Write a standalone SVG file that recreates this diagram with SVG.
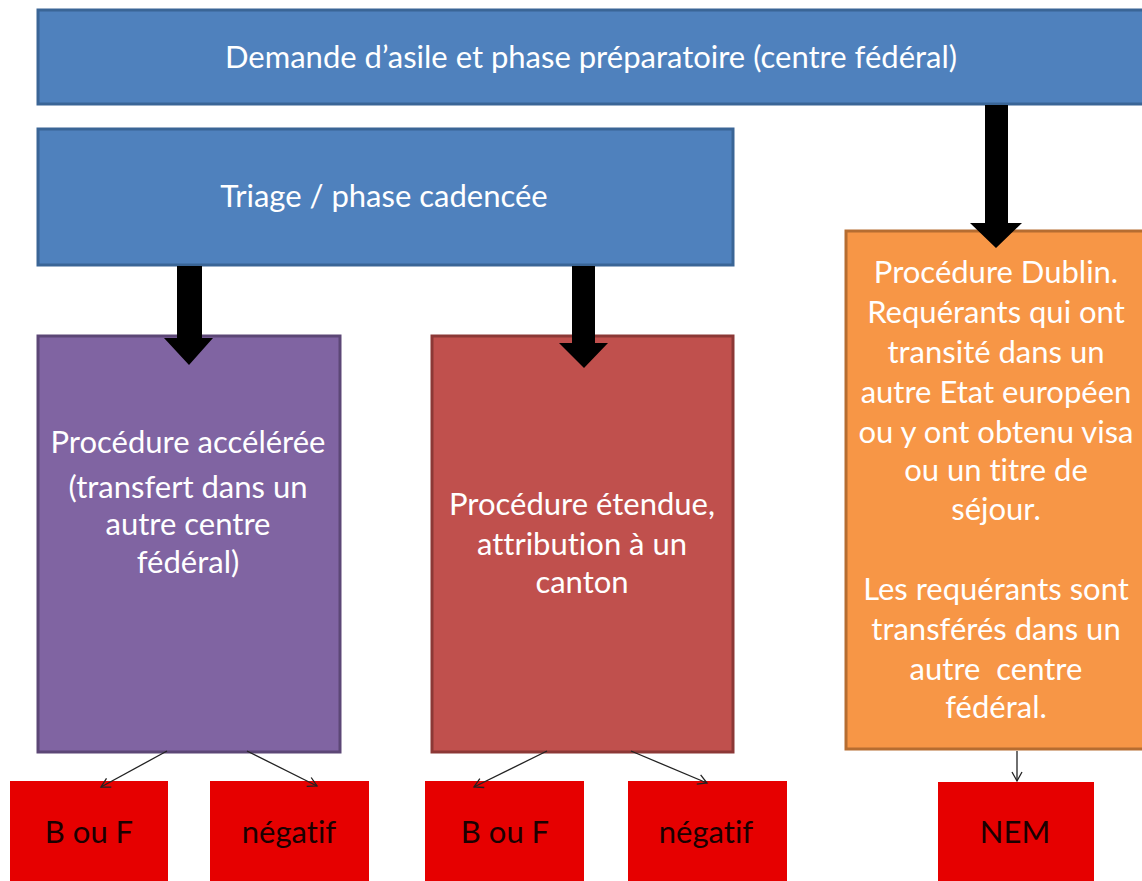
<svg xmlns="http://www.w3.org/2000/svg" width="1142" height="881" viewBox="0 0 1142 881">
<defs>
<marker id="open" markerWidth="12" markerHeight="12" refX="10" refY="6" orient="auto" markerUnits="userSpaceOnUse">
<path d="M1,1 L10,6 L1,11" fill="none" stroke="#222" stroke-width="1.3"/>
</marker>
</defs>
<style>
.t{font-family:Lato,"Liberation Sans",sans-serif;font-size:31px;fill:#fff;text-anchor:middle;font-variant-ligatures:none}
.d{font-family:Lato,"Liberation Sans",sans-serif;font-size:31px;fill:#1a0000;text-anchor:middle;font-variant-ligatures:none}
.blue{fill:#4F81BD;stroke:#3A6596;stroke-width:3}
.purple{fill:#8064A2;stroke:#5C4776;stroke-width:3}
.brown{fill:#C0504D;stroke:#8C3836;stroke-width:3}
.orange{fill:#F79646;stroke:#B66D31;stroke-width:3}
.red{fill:#E60000}
.big{fill:#000}
.thin{stroke:#222;stroke-width:1.3;fill:none;marker-end:url(#open)}
</style>
<rect width="1142" height="881" fill="#fff"/>
<g id="demande">
<rect class="blue" x="38" y="10" width="1110" height="94"/>
<text class="t" x="591" y="68">Demande d’asile et phase préparatoire (centre fédéral)</text>
</g>
<g id="triage">
<rect class="blue" x="38" y="129" width="695" height="136"/>
<text class="t" x="384" y="207">Triage / phase cadencée</text>
</g>
<g id="acceleree">
<rect class="purple" x="38" y="336" width="302" height="416"/>
<text class="t" x="188" y="453">Procédure accélérée</text>
<text class="t" x="188" y="498">(transfert dans un</text>
<text class="t" x="188" y="535">autre centre</text>
<text class="t" x="188" y="573">fédéral)</text>
</g>
<g id="etendue">
<rect class="brown" x="432" y="336" width="301" height="416"/>
<text class="t" x="582" y="515">Procédure étendue,</text>
<text class="t" x="582" y="555">attribution à un</text>
<text class="t" x="582" y="593">canton</text>
</g>
<g id="dublin">
<rect class="orange" x="846" y="231" width="310" height="518"/>
<text class="t" x="996" y="283">Procédure Dublin.</text>
<text class="t" x="996" y="323">Requérants qui ont</text>
<text class="t" x="996" y="363">transité dans un</text>
<text class="t" x="996" y="403">autre Etat européen</text>
<text class="t" x="996" y="443">ou y ont obtenu visa</text>
<text class="t" x="996" y="481">ou un titre de</text>
<text class="t" x="996" y="520">séjour.</text>
<text class="t" x="996" y="600">Les requérants sont</text>
<text class="t" x="996" y="640">transférés dans un</text>
<text class="t" x="996" y="680" xml:space="preserve">autre  centre</text>
<text class="t" x="996" y="718">fédéral.</text>
</g>
<g id="bf1">
<rect class="red" x="10" y="781" width="158" height="110"/>
<text class="d" x="89" y="843">B ou F</text>
</g>
<g id="neg1">
<rect class="red" x="210" y="781" width="159" height="110"/>
<text class="d" x="289" y="843">négatif</text>
</g>
<g id="bf2">
<rect class="red" x="425" y="781" width="159" height="110"/>
<text class="d" x="505" y="843">B ou F</text>
</g>
<g id="neg2">
<rect class="red" x="628" y="781" width="159" height="110"/>
<text class="d" x="706" y="843">négatif</text>
</g>
<g id="nem">
<rect class="red" x="938" y="782" width="156" height="110"/>
<text class="d" x="1015" y="843">NEM</text>
</g>
<g id="connectors">
<polygon class="big" points="177,266 202,266 202,338 213,338 189,365 164,338 177,338"/>
<polygon class="big" points="572,266 595,266 595,343 608,343 584,368 559,343 572,343"/>
<polygon class="big" points="985,105 1008,105 1008,223 1022,223 996,248 970,223 985,223"/>
<line class="thin" x1="167" y1="751" x2="101" y2="787"/>
<line class="thin" x1="247" y1="751" x2="317" y2="786"/>
<line class="thin" x1="547" y1="751" x2="474" y2="787"/>
<line class="thin" x1="631" y1="751" x2="707" y2="783"/>
<line class="thin" x1="1017" y1="751" x2="1017" y2="781"/>
</g>
</svg>
